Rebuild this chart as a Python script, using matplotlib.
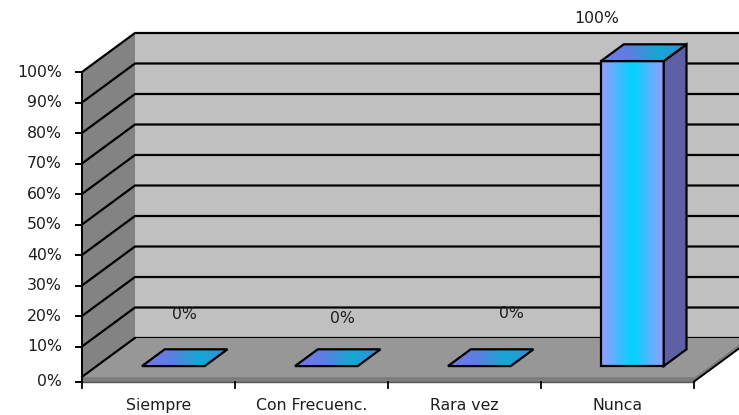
import numpy as np
import matplotlib
matplotlib.use("Agg")
import matplotlib.pyplot as plt
from matplotlib.patches import Polygon
from matplotlib.colors import LinearSegmentedColormap

# ---- data ----
categories = ["Siempre", "Con Frecuenc.", "Rara vez", "Nunca"]
values = [0, 0, 0, 100]
y_ticks = [0, 10, 20, 30, 40, 50, 60, 70, 80, 90, 100]

# ---- style / geometry of the pseudo-3D frame ----
W, H, DPI = 739, 415, 100
PX_PER_CAT = 153.0          # pixels per category slot
PX_PER_PCT = 3.05           # pixels per percentage point
ORIGIN_PX = (82.0, 377.0)   # front-left floor corner, pixels from top-left
DEPTH_PX = (53.0, 39.0)     # oblique depth vector, pixels (right, up)
SLAB = 1.5                  # floor thickness in % units

DX = DEPTH_PX[0] / PX_PER_CAT
DY = DEPTH_PX[1] / PX_PER_PCT
N = len(categories)

BAR_W = 0.41
D0, D1 = 0.28, 0.71          # bar front/back position in depth

wall_back = "#c0c0c0"
wall_side = "#838383"
floor_top = "#979797"
floor_edge = "#7d7d7d"
text_col = "#1e1e1e"
FS = 11.3
label_nudges = [(0, 43), (5, 39), (21, 44), (-47, 34)]   # offset pixels

fig = plt.figure(figsize=(W / DPI, H / DPI), dpi=DPI)
ax = fig.add_axes([0, 0, 1, 1])
ax.set_axis_off()
xlim = (-ORIGIN_PX[0] / PX_PER_CAT, (W - ORIGIN_PX[0]) / PX_PER_CAT)
ylim = ((ORIGIN_PX[1] - H) / PX_PER_PCT, ORIGIN_PX[1] / PX_PER_PCT)


def poly(pts, fc, ec="none", lw=0, z=1):
    p = Polygon(pts, closed=True, facecolor=fc, edgecolor=ec, linewidth=lw,
                joinstyle="miter", zorder=z)
    ax.add_patch(p)
    return p


def grad_poly(pts, stops, z, ec="black", lw=1.6):
    pts = np.asarray(pts, dtype=float)
    clip = Polygon(pts, closed=True, facecolor="none", edgecolor="none")
    ax.add_patch(clip)
    cmap = LinearSegmentedColormap.from_list("g", stops)
    x0, x1 = pts[:, 0].min(), pts[:, 0].max()
    y0, y1 = pts[:, 1].min(), pts[:, 1].max()
    if y1 - y0 < 1e-6:
        y1 = y0 + 1e-3
    im = ax.imshow(np.linspace(0, 1, 256)[None, :], cmap=cmap,
                   extent=[x0, x1, y0, y1], origin="lower", aspect="auto",
                   interpolation="bilinear", zorder=z)
    im.set_clip_path(clip)
    poly(pts, "none", ec, lw, z + 0.01)


# ---- walls and floor ----
top = max(y_ticks)
poly([(DX, DY), (N + DX + 1, DY), (N + DX + 1, top + DY), (DX, top + DY)],
     wall_back, z=1)
poly([(0, 0), (DX, DY), (DX, top + DY), (0, top)], wall_side, z=1)

for v in y_ticks:
    ax.plot([0, DX, N + DX + 1], [v, v + DY, v + DY], color="black",
            lw=1.6, solid_capstyle="butt", zorder=2)

# floor slab
poly([(0, 0), (N, 0), (N + DX, DY), (DX, DY)], floor_top, z=3)
poly([(0, -SLAB), (N, -SLAB), (N, 0), (0, 0)], floor_edge, z=3)
poly([(N, -SLAB), (N + DX, DY - SLAB), (N + DX, DY), (N, 0)], floor_edge, z=3)
ax.plot([0, DX], [0, DY], color="black", lw=1.4, zorder=3.5)
ax.plot([N, N + DX], [-SLAB, DY - SLAB], color="black", lw=1.4, zorder=3.5)

# value axis
ax.plot([0, 0], [-SLAB, top], color="black", lw=1.4, zorder=4)
tick_px = 6 / PX_PER_CAT
for v in y_ticks:
    yv = -SLAB if v == 0 else v
    ax.plot([-tick_px, 0], [yv, yv], color="black", lw=1.4, zorder=4)
    ax.text(-20 / PX_PER_CAT, yv, f"{v}%", ha="right", va="center",
            fontsize=FS, color=text_col, family="DejaVu Sans")

# category axis
ax.plot([0, N], [-SLAB, -SLAB], color="#555555", lw=1.0, zorder=4)
for i in range(N + 1):
    ax.plot([i, i], [-SLAB, -SLAB - 6 / PX_PER_PCT], color="black", lw=1.3,
            zorder=4)
for i, name in enumerate(categories):
    ax.text(i + 0.5, (ORIGIN_PX[1] - 405) / PX_PER_PCT, name, ha="center",
            va="center", fontsize=FS, color=text_col, family="DejaVu Sans")

# ---- bars ----
front_stops = ["#9a9cff", "#00d2ff", "#9a9cff"]
top_stops = ["#7a78e6", "#5c7ee0", "#16a8d4", "#3a8ad6"]
side_col = "#5f5fa6"

for i, v in enumerate(values):
    c = i + 0.5
    xl, xr = c - BAR_W / 2, c + BAR_W / 2
    fx, fy = D0 * DX, D0 * DY
    bx, by = D1 * DX, D1 * DY
    z = 5 + i
    if v > 0:
        grad_poly([(xl + fx, fy), (xr + fx, fy), (xr + fx, v + fy),
                   (xl + fx, v + fy)], front_stops, z)
        poly([(xr + fx, fy), (xr + bx, by), (xr + bx, v + by),
              (xr + fx, v + fy)], side_col, "black", 1.6, z + 0.02)
    grad_poly([(xl + fx, v + fy), (xr + fx, v + fy), (xr + bx, v + by),
               (xl + bx, v + by)], top_stops, z + 0.03)
    # value label
    tx = c + (D0 + D1) / 2 * DX
    ty = v + (D0 + D1) / 2 * DY
    ax.annotate(f"{v}%", (tx, ty), xytext=label_nudges[i],
                textcoords="offset pixels", ha="center", va="center",
                fontsize=FS, color=text_col, family="DejaVu Sans",
                zorder=20)

ax.set_xlim(*xlim)
ax.set_ylim(*ylim)
fig.savefig("out.png", dpi=DPI, facecolor="white")
